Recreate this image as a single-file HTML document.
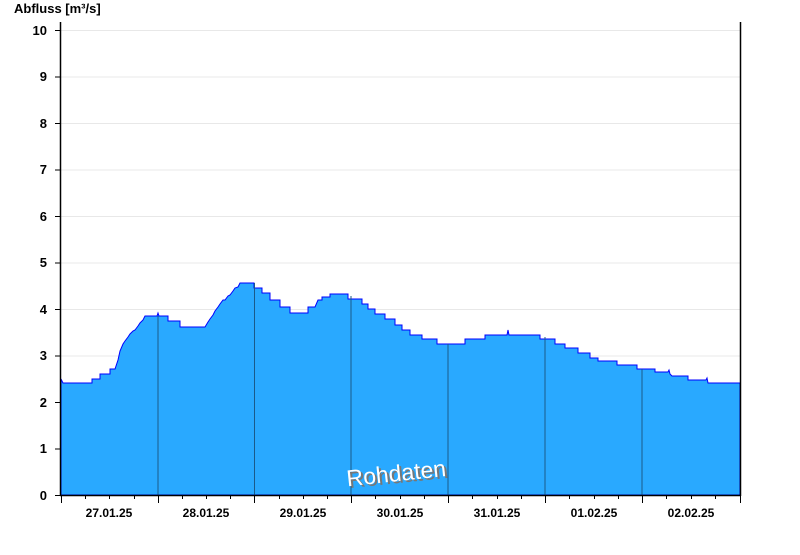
<!DOCTYPE html>
<html><head><style>
body{margin:0;background:#fff;}
svg text{font-family:"Liberation Sans",Arial,sans-serif;}
</style></head><body>
<svg width="800" height="550" viewBox="0 0 800 550" xmlns="http://www.w3.org/2000/svg">
<rect width="800" height="550" fill="#fff"/>
<g stroke="#e8e8e8" stroke-width="1">
<line x1="61" y1="30.5" x2="740" y2="30.5"/><line x1="61" y1="77" x2="740" y2="77"/>
<line x1="61" y1="123.5" x2="740" y2="123.5"/><line x1="61" y1="170" x2="740" y2="170"/>
<line x1="61" y1="216.5" x2="740" y2="216.5"/><line x1="61" y1="263" x2="740" y2="263"/>
<line x1="61" y1="309.5" x2="740" y2="309.5"/><line x1="61" y1="356" x2="740" y2="356"/>
<line x1="61" y1="402.5" x2="740" y2="402.5"/><line x1="61" y1="449" x2="740" y2="449"/>
</g>
<path fill="#29a9ff" stroke="#0000ff" stroke-width="1" d="M61,495 L61,379 L63,383 L92,383 L92,379 L100,379 L100,374 L110,374 L110,369 L115,369 L118,360 L120,351 L123,344 L125,341 L128,337 L130,334 L133,331 L135,330 L138,326 L140,323 L143,320 L145,316 L157,316 L158,313 L159,316 L168,316 L168,321 L180,321 L180,327 L205,327 L208,322 L210,319 L213,315 L215,311 L218,307 L220,304 L223,300 L225,300 L228,296 L230,295 L233,291 L235,288 L238,287 L240,283 L254,283 L254,288 L262,288 L262,293 L270,293 L270,300 L280,300 L280,307 L290,307 L290,313 L308,313 L308,307 L315,307 L318,300 L322,300 L322,297 L330,297 L330,294 L348,294 L348,299 L362,299 L362,304 L368,304 L368,309 L375,309 L375,314 L385,314 L385,319 L395,319 L395,325 L402,325 L402,330 L410,330 L410,335 L422,335 L422,339 L437,339 L437,344 L465,344 L465,339 L485,339 L485,335 L507,335 L508,330 L509,335 L540,335 L540,339 L555,339 L555,344 L565,344 L565,348 L578,348 L578,353 L590,353 L590,358 L598,358 L598,361 L617,361 L617,365 L637,365 L637,369 L655,369 L655,372 L668,372 L669,370 L670,374 L672,376 L688,376 L688,380 L706,380 L707,378 L708,383 L740,383 L740,495 Z"/>
<g stroke="#1a5a8a" stroke-width="1">
<line x1="158" y1="316" x2="158" y2="495"/><line x1="254.5" y1="283" x2="254.5" y2="495"/>
<line x1="351" y1="296" x2="351" y2="495"/><line x1="448" y1="344" x2="448" y2="495"/>
<line x1="545" y1="337" x2="545" y2="495"/><line x1="642" y1="369" x2="642" y2="495"/>
</g>
<text x="348" y="483" font-size="23" fill="#777" transform="rotate(-6 398 470)">Rohdaten</text>
<text x="346" y="481" font-size="23" fill="#fff" transform="rotate(-6 398 470)">Rohdaten</text>
<g stroke="#000" stroke-width="1.5">
<line x1="60.5" y1="22" x2="60.5" y2="496"/><line x1="60" y1="495.5" x2="741" y2="495.5"/>
<line x1="740.5" y1="22" x2="740.5" y2="496"/>
</g>
<g stroke="#000" stroke-width="1">
<line x1="55" y1="30.5" x2="61" y2="30.5"/><line x1="55" y1="77" x2="61" y2="77"/>
<line x1="55" y1="123.5" x2="61" y2="123.5"/><line x1="55" y1="170" x2="61" y2="170"/>
<line x1="55" y1="216.5" x2="61" y2="216.5"/><line x1="55" y1="263" x2="61" y2="263"/>
<line x1="55" y1="309.5" x2="61" y2="309.5"/><line x1="55" y1="356" x2="61" y2="356"/>
<line x1="55" y1="402.5" x2="61" y2="402.5"/><line x1="55" y1="449" x2="61" y2="449"/>
<line x1="55" y1="495.5" x2="61" y2="495.5"/>
<path d="M61.5,495v8M158.5,495v8M254.5,495v8M351.5,495v8M448.5,495v8M545.5,495v8M642.5,495v8M740.5,495v8
M85.5,495v4M109.5,495v4M134.5,495v4M182.5,495v4M206.5,495v4M230.5,495v4M279.5,495v4M303.5,495v4M327.5,495v4M375.5,495v4M400.5,495v4M424.5,495v4M472.5,495v4M497.5,495v4M521.5,495v4M569.5,495v4M594.5,495v4M618.5,495v4M666.5,495v4M691.5,495v4M715.5,495v4"/>
</g>
<g font-size="13" font-weight="bold" fill="#000" text-anchor="end">
<text x="47" y="35">10</text><text x="47" y="81">9</text><text x="47" y="128">8</text>
<text x="47" y="174">7</text><text x="47" y="221">6</text><text x="47" y="267">5</text>
<text x="47" y="314">4</text><text x="47" y="360">3</text><text x="47" y="407">2</text>
<text x="47" y="453">1</text><text x="47" y="500">0</text>
</g>
<g font-size="12" font-weight="bold" fill="#000" text-anchor="middle">
<text x="109" y="517">27.01.25</text><text x="206" y="517">28.01.25</text><text x="303" y="517">29.01.25</text>
<text x="400" y="517">30.01.25</text><text x="497" y="517">31.01.25</text><text x="594" y="517">01.02.25</text>
<text x="691" y="517">02.02.25</text>
</g>
<text x="14" y="13" font-size="13" font-weight="bold" fill="#000">Abfluss [m³/s]</text>
</svg>
</body></html>
